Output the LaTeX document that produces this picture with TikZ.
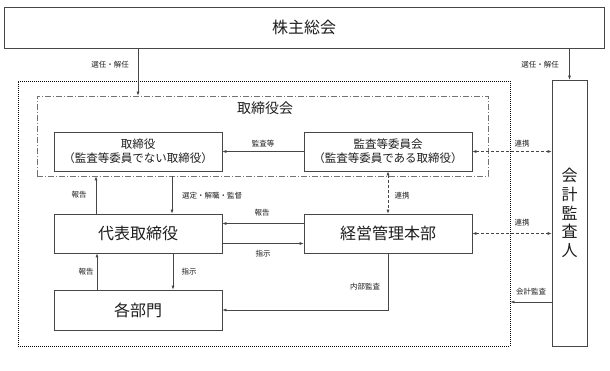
\documentclass[tikz,border=0pt]{standalone}
\usepackage{fontspec}
\setmainfont{Noto Sans CJK JP}
\usetikzlibrary{arrows.meta,calc}
\definecolor{linec}{RGB}{70,70,70}
\definecolor{txtc}{RGB}{30,30,30}
\tikzset{
  box/.style={draw=linec, line width=0.6pt, fill=white, minimum width=168pt, minimum height=39pt, inner sep=0pt, align=center, text=txtc},
  bigtxt/.style={font=\fontsize{16}{18}\selectfont},
  midtxt/.style={font=\fontsize{11.5}{14}\selectfont},
  arr/.style={draw=linec, line width=0.6pt, -{Latex[length=4pt,width=3pt]}},
  darr/.style={draw=linec, line width=0.6pt, dash pattern=on 3pt off 2pt, {Latex[length=4pt,width=3pt]}-{Latex[length=4pt,width=3pt]}},
  lbl/.style={font=\fontsize{7.5}{9}\selectfont, text=txtc, inner sep=0pt},
}
\begin{document}
\begin{tikzpicture}[x=1pt,y=-1pt]
\useasboundingbox (0,0) rectangle (610,371);
% outer frames
\node[draw=black, line width=0.9pt, dash pattern=on 1pt off 1pt, minimum width=492pt, minimum height=265pt, inner sep=0pt] (outer) at (264,213.5) {};
\node[draw=black!55, line width=0.6pt, dash pattern=on 6pt off 2pt on 1pt off 2pt, minimum width=451pt, minimum height=80pt, inner sep=0pt] (torikai) at (262.5,136) {};
\node[text=txtc, font=\fontsize{14}{16}\selectfont, inner sep=0pt] (torikaittl) at (265,108) {取締役会};
% boxes
\node[box, bigtxt, minimum width=600pt, minimum height=41pt] (soukai) at (304,27.5) {株主総会};
\node[box, midtxt] (tori) at (138,151.5) {取締役\\（監査等委員でない取締役）};
\node[box, midtxt] (kansa) at (388,151.5) {監査等委員会\\（監査等委員である取締役）};
\node[box, bigtxt] (daihyo) at (138,233.5) {代表取締役};
\node[box, bigtxt] (keiei) at (388,233.5) {経営管理本部};
\node[box, bigtxt, minimum height=40pt] (kakubu) at (138,310) {各部門};
\node[box, font=\fontsize{16}{18.7}\selectfont, minimum width=35pt, minimum height=266pt] (kaikei) at (569.5,213) {会\\計\\監\\査\\人};
% helper coordinates
\coordinate (r1) at ([xshift=-42pt]daihyo.north);
\coordinate (s1) at ([xshift=34pt]daihyo.north);
\coordinate (r2) at ([xshift=-41pt]kakubu.north);
\coordinate (s2) at ([xshift=35pt]daihyo.south);
\coordinate (h1) at ([yshift=10pt]keiei.west);
\coordinate (h2) at ([yshift=-10pt]daihyo.east);
\coordinate (k1) at ([yshift=-89pt]kaikei.west);
% connectors
\draw[arr] (soukai.south -| tori) -- (torikai.north -| tori);
\draw[arr] (soukai.south -| kaikei) -- (kaikei.north);
\draw[arr] (kansa.west) -- (tori.east);
\draw[darr] (kansa.east) -- (kansa.east -| kaikei.west);
\draw[darr] (kansa.south) -- (keiei.north);
\draw[arr] (r1) -- (r1 |- torikai.south);
\draw[arr] (s1 |- torikai.south) -- (s1);
\draw[arr] (h1) -- (h1 -| daihyo.east);
\draw[arr] (h2) -- (h2 -| keiei.west);
\draw[arr] (r2) -- (r2 |- daihyo.south);
\draw[arr] (s2) -- (s2 |- kakubu.north);
\draw[arr] (keiei.south) -- (keiei.south |- kakubu.east) -- (kakubu.east);
\draw[darr] (keiei.east) -- (keiei.east -| kaikei.west);
\draw[arr] (k1) -- (k1 -| outer.east);
% labels
\node[lbl] (l1) at (110,65) {選任・解任};
\node[lbl] (l2) at (540,65) {選任・解任};
\node[lbl] (l3) at (263,144) {監査等};
\node[lbl] (l4) at (522,144) {連携};
\node[lbl] (l5) at (79,195) {報告};
\node[lbl] (l6) at (212,196) {選定・解職・監督};
\node[lbl] (l7) at (402,196) {連携};
\node[lbl] (l8) at (262,213) {報告};
\node[lbl] (l9) at (263,254) {指示};
\node[lbl] (l10) at (86,272) {報告};
\node[lbl] (l11) at (189,272) {指示};
\node[lbl] (l12) at (365,287) {内部監査};
\node[lbl] (l13) at (522,223) {連携};
\node[lbl] (l14) at (531,292) {会計監査};
\end{tikzpicture}
\end{document}
